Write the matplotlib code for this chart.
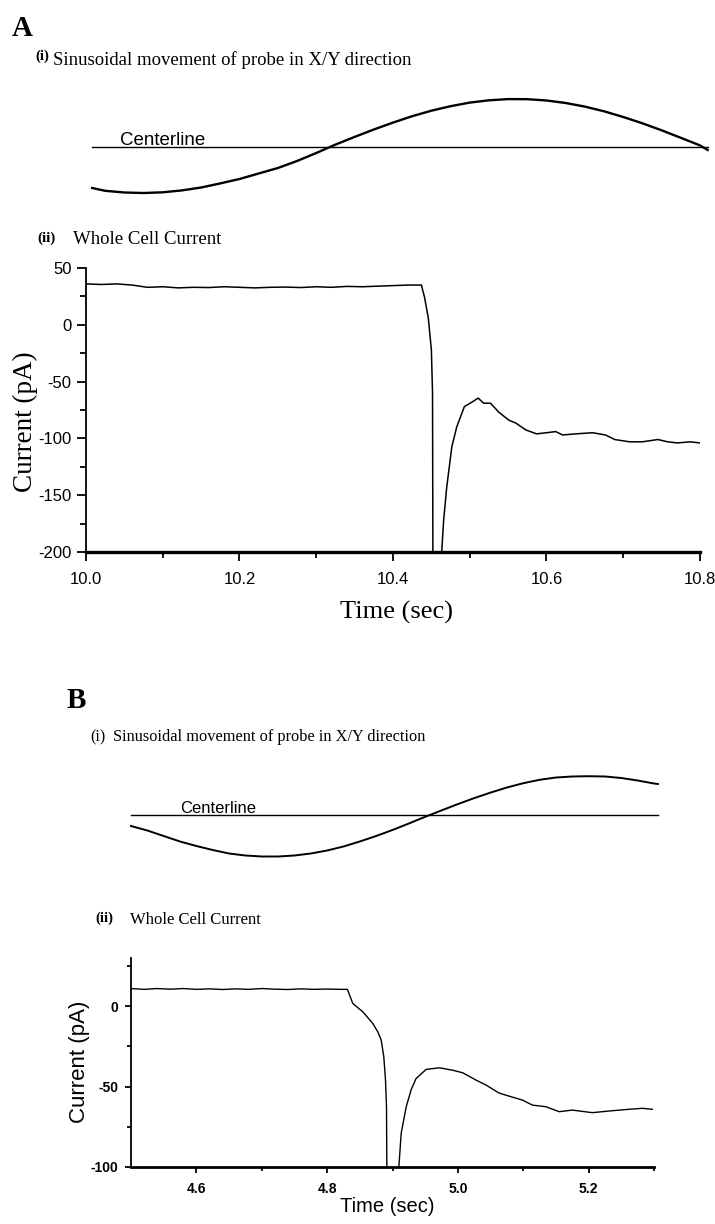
import matplotlib
matplotlib.use("Agg")
import matplotlib.pyplot as plt

# ---- data ----
# panel A, probe position (offset from centerline, arbitrary units)
a_sine_t = [10.008, 10.025, 10.05, 10.075, 10.1, 10.125, 10.15, 10.175, 10.2, 10.225,
            10.25, 10.275, 10.3, 10.325, 10.35, 10.375, 10.4, 10.425, 10.45, 10.475,
            10.5, 10.525, 10.55, 10.575, 10.6, 10.625, 10.65, 10.675, 10.7, 10.725,
            10.75, 10.775, 10.8, 10.81]
a_sine_y = [-41, -43.8, -45.5, -46, -45.3, -43.4, -40.5, -36.4, -32, -26.5,
            -21, -14, -6, 2.4, 10.1, 17.5, 24.4, 30.8, 36.3, 40.8,
            44.4, 46.7, 47.9, 47.8, 46.5, 44, 40.4, 35.7, 30, 23.7,
            16.7, 9.2, 1.6, -3]

# panel A, whole cell current (pA)
a_time = [10.0, 10.02, 10.04, 10.06, 10.08, 10.10, 10.12, 10.14, 10.16, 10.18, 10.20,
          10.22, 10.24, 10.26, 10.28, 10.30, 10.32, 10.34, 10.36, 10.38, 10.40, 10.42,
          10.437, 10.441, 10.446, 10.450, 10.4515, 10.452,
          10.4625, 10.466, 10.470, 10.4766, 10.483, 10.493, 10.503, 10.511, 10.518,
          10.527, 10.538, 10.551, 10.560, 10.573, 10.587, 10.600,
          10.612, 10.621, 10.638, 10.660, 10.677, 10.689, 10.708, 10.725, 10.745,
          10.758, 10.771, 10.787, 10.80]
a_current = [36, 35.5, 36, 35, 33, 33.5, 32.5, 33, 32.8, 33.5, 33,
             32.5, 33, 33.2, 32.8, 33.5, 33, 33.8, 33.5, 34, 34.5, 35,
             35, 24.5, 6, -22, -60, -210,
             -210, -172, -143, -107.5, -90, -72, -68, -64.5, -69,
             -69, -77, -84, -86.5, -92.5, -96, -95,
             -94, -97, -96, -95, -97, -101, -103, -103, -101,
             -103, -104, -103, -104]

# panel B, probe position
b_sine_t = [4.5, 4.525, 4.55, 4.575, 4.6, 4.625, 4.65, 4.675, 4.7, 4.725,
            4.75, 4.775, 4.8, 4.825, 4.85, 4.875, 4.9, 4.925, 4.95, 4.975,
            5.0, 5.025, 5.05, 5.075, 5.1, 5.125, 5.15, 5.175, 5.2, 5.225,
            5.25, 5.275, 5.3, 5.306]
b_sine_y = [-11, -15.5, -21, -26.5, -31, -35, -38.5, -40.5, -41.5, -41.5,
            -40.5, -38.5, -35.5, -31.5, -26.5, -21, -15, -8.5, -1.8, 4.6,
            10.9, 16.9, 22.4, 27.5, 31.8, 35.2, 37.5, 38.5, 38.8, 38.5,
            37, 34.5, 31.5, 31]

# panel B, whole cell current (pA)
b_time = [4.50, 4.52, 4.54, 4.56, 4.58, 4.60, 4.62, 4.64, 4.66, 4.68, 4.70, 4.72,
          4.74, 4.76, 4.78, 4.80, 4.82, 4.831,
          4.8393, 4.8547, 4.870, 4.8776, 4.8827, 4.8867, 4.8893, 4.8908, 4.8915,
          4.908, 4.9133, 4.921, 4.9285, 4.936, 4.9514, 4.9718, 4.992, 5.0075, 5.028,
          5.043, 5.063, 5.079, 5.099, 5.114, 5.1345, 5.155, 5.175, 5.2056, 5.236,
          5.262, 5.282, 5.2975]
b_current = [11, 10.5, 11, 10.6, 11, 10.5, 10.8, 10.4, 10.8, 10.5, 11, 10.6,
             10.4, 10.8, 10.5, 10.7, 10.5, 10.5,
             1.7, -3.5, -10.8, -16, -21, -31.5, -46, -62.5, -110,
             -110, -79, -62.5, -52, -45, -39.3, -38.3, -39.8, -41.4, -46,
             -49, -54, -56, -58.4, -61.5, -62.5, -65.6, -64.6, -66.2, -65,
             -64.1, -63.5, -64.1]

a_xticks = [10.0, 10.2, 10.4, 10.6, 10.8]
a_xminor = [10.1, 10.3, 10.5, 10.7]
a_yticks = [50, 0, -50, -100, -150, -200]
a_yminor = [25, -25, -75, -125, -175]
b_xticks = [4.6, 4.8, 5.0, 5.2]
b_xminor = [4.7, 4.9, 5.1, 5.3]
b_yticks = [0, -50, -100]
b_yminor = [25, -25, -75]

SERIF = ["Liberation Serif", "DejaVu Serif"]
SANS = ["Liberation Sans", "DejaVu Sans"]

W, H = 715, 1224
fig = plt.figure(figsize=(W / 100, H / 100), dpi=100)


def box(left, top, right, bottom):
    # pixel box -> figure fraction rect
    return [left / W, 1 - bottom / H, (right - left) / W, (bottom - top) / H]


def txt(x, y, s, **kw):
    fig.text(x / W, 1 - y / H, s, **kw)


def current_axes(rect, xlim, ylim, xt, xm, yt, ym, xlabels, ylabels,
                 fsize, weight, bottom_lw, tmaj, tmin, xpad, ypad):
    ax = fig.add_axes(rect)
    ax.set_xlim(*xlim)
    ax.set_ylim(*ylim)
    for s in ["top", "right"]:
        ax.spines[s].set_visible(False)
    ax.spines["left"].set_linewidth(1.3)
    ax.spines["bottom"].set_linewidth(bottom_lw)
    ax.set_xticks(xt)
    ax.set_xticklabels(xlabels)
    ax.set_xticks(xm, minor=True)
    ax.set_yticks(yt)
    ax.set_yticklabels(ylabels)
    ax.set_yticks(ym, minor=True)
    ax.tick_params(which="both", direction="out", width=1.3, colors="black")
    ax.tick_params(axis="x", which="major", length=tmaj, pad=xpad)
    ax.tick_params(axis="x", which="minor", length=tmin)
    ax.tick_params(axis="y", which="major", length=tmaj, pad=ypad)
    ax.tick_params(axis="y", which="minor", length=tmin)
    for lab in ax.get_xticklabels() + ax.get_yticklabels():
        lab.set_fontfamily(SANS)
        lab.set_fontsize(fsize)
        lab.set_fontweight(weight)
    return ax


# ---------------- panel A ----------------
txt(12, 28, "A", family=SERIF, fontsize=21, fontweight="bold", va="center")
txt(35, 56, "(i)", family=SERIF, fontsize=10.5, fontweight="bold", va="center")
txt(53, 60, "Sinusoidal movement of probe in X/Y direction", family=SERIF,
    fontsize=13.5, va="center")

ax1 = fig.add_axes(box(86, 90, 700, 205))
ax1.set_xlim(10.0, 10.8)
ax1.set_ylim(-58, 57)
ax1.axis("off")
ax1.plot([a_sine_t[0], a_sine_t[-1]], [0, 0], color="black", lw=1.0, clip_on=False)
ax1.plot(a_sine_t, a_sine_y, color="black", lw=1.7, clip_on=False)
txt(120, 145, "Centerline", family=SANS, fontsize=13.5, va="baseline")

txt(37, 238, "(ii)", family=SERIF, fontsize=11, fontweight="bold", va="center")
txt(73, 239, "Whole Cell Current", family=SERIF, fontsize=13.5, va="center")

ax2 = current_axes(box(86, 268, 700, 552), (10.0, 10.8), (-200, 50),
                   a_xticks, a_xminor, a_yticks, a_yminor,
                   ["%.1f" % v for v in a_xticks], [str(v) for v in a_yticks],
                   12, "normal", 2.4, 6.5, 4.3, 8, 4)
ax2.plot(a_time, a_current, color="black", lw=1.1)
txt(25, 422, "Current (pA)", family=SERIF, fontsize=19.5, rotation=90,
    ha="center", va="center")
txt(396, 612, "Time (sec)", family=SERIF, fontsize=19, ha="center", va="center")

# ---------------- panel B ----------------
txt(67, 701, "B", family=SERIF, fontsize=21, fontweight="bold", va="center")
txt(90, 737, "(i)", family=SERIF, fontsize=11.5, va="center")
txt(113, 737, "Sinusoidal movement of probe in X/Y direction", family=SERIF,
    fontsize=11.8, va="center")

ax3 = fig.add_axes(box(131, 765, 654, 870))
ax3.set_xlim(4.5, 5.3)
ax3.set_ylim(-55, 50)
ax3.axis("off")
ax3.plot([b_sine_t[0], b_sine_t[-1]], [0, 0], color="black", lw=1.0, clip_on=False)
ax3.plot(b_sine_t, b_sine_y, color="black", lw=1.4, clip_on=False)
txt(180, 813, "Centerline", family=SANS, fontsize=12, va="baseline")

txt(95, 918, "(ii)", family=SERIF, fontsize=10.5, fontweight="bold", va="center")
txt(130, 920, "Whole Cell Current", family=SERIF, fontsize=12, va="center")

ax4 = current_axes(box(131, 958, 654, 1167), (4.5, 5.3), (-100, 30),
                   b_xticks, b_xminor, b_yticks, b_yminor,
                   ["%.1f" % v for v in b_xticks], [str(v) for v in b_yticks],
                   10, "bold", 2.0, 4.3, 3, 6.5, 5)
ax4.plot(b_time, b_current, color="black", lw=1.0)
txt(80, 1062, "Current (pA)", family=SANS, fontsize=16, rotation=90,
    ha="center", va="center")
txt(387, 1206, "Time (sec)", family=SANS, fontsize=14.5, ha="center", va="center")

fig.savefig("out.png", dpi=100, facecolor="white")
